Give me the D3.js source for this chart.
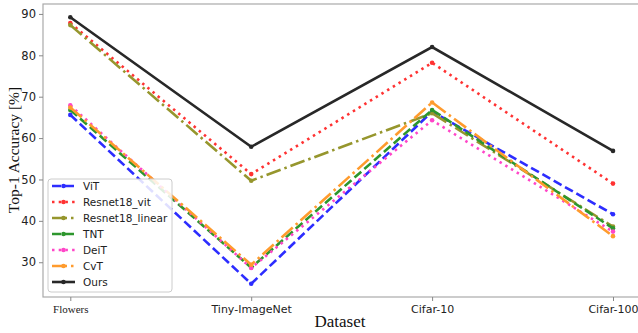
<!DOCTYPE html>
<html>
<head>
<meta charset="utf-8">
<script src="https://cdn.jsdelivr.net/npm/d3@7"></script>
<style>
  body { margin: 0; background: #fff; }
  svg { display: block; }
</style>
</head>
<body>
<div id="chart"></div>
<script>
// datasets on x axis
var datasets = ["Flowers", "Tiny-ImageNet", "Cifar-10", "Cifar-100"];
var yTicks = [30, 40, 50, 60, 70, 80, 90];

// top-1 accuracy per model
var vit          = [65.6, 24.8, 66.4, 41.6];
var resnet18Vit  = [87.8, 51.3, 78.2, 49.0];
var resnet18Lin  = [87.3, 49.7, 66.0, 38.6];
var tnt          = [66.8, 28.7, 66.8, 38.2];
var deit         = [67.9, 28.6, 64.3, 37.4];
var cvt          = [67.4, 29.4, 68.6, 36.3];
var ours         = [89.2, 57.9, 82.0, 56.9];

var modelNames = ["ViT", "Resnet18_vit", "Resnet18_linear", "TNT", "DeiT", "CvT", "Ours"];

var styles = [
  {color: "rgb(45,45,255)",  dash: "9,4"},
  {color: "rgb(255,50,50)",  dash: "2.5,4.2"},
  {color: "rgb(150,150,45)", dash: "15,4,2.5,4"},
  {color: "rgb(45,150,45)",  dash: "9,4"},
  {color: "rgb(255,70,200)", dash: "2.5,4.2"},
  {color: "rgb(255,155,45)", dash: "15,4,2.5,4"},
  {color: "rgb(40,40,40)",   dash: null}
];

var series = [vit, resnet18Vit, resnet18Lin, tnt, deit, cvt, ours].map(function(v, i){
  return {name: modelNames[i], values: v, color: styles[i].color, dash: styles[i].dash};
});

var W = 638, H = 333;
var margin = {left: 43, top: 4, right: -2, bottom: 36};

var svg = d3.select("#chart").append("svg").attr("width", W).attr("height", H);

var x = d3.scalePoint().domain(datasets).range([70.3, 613]);
var y = d3.scaleLinear().domain([21.6, 92.4]).range([H - margin.bottom, margin.top]);

var g = svg.append("g");

// spines
g.append("rect")
  .attr("x", margin.left).attr("y", margin.top)
  .attr("width", W - margin.right - margin.left)
  .attr("height", H - margin.bottom - margin.top)
  .attr("fill", "none").attr("stroke", "#aaa").attr("stroke-width", 1.2);

// y axis
var yAxis = g.append("g")
  .attr("transform", "translate(" + margin.left + ",0)")
  .call(d3.axisLeft(y).tickValues(yTicks).tickSize(4).tickPadding(3));
yAxis.select(".domain").remove();
yAxis.selectAll("line").attr("stroke", "#888");
yAxis.selectAll("text").attr("font-family", "DejaVu Sans").attr("font-size", 11.5).attr("fill", "#222");

// x axis
var xAxis = g.append("g")
  .attr("transform", "translate(0," + (H - margin.bottom) + ")")
  .call(d3.axisBottom(x).tickSize(4).tickPadding(4));
xAxis.select(".domain").remove();
xAxis.selectAll("line").attr("stroke", "#888");
xAxis.selectAll("text")
  .attr("font-family", function(d){ return d == "Flowers" ? "Liberation Serif" : "DejaVu Sans"; })
  .attr("font-size", 11)
  .attr("fill", "#222");

// axis titles
svg.append("text")
  .attr("x", 340).attr("y", 327)
  .attr("text-anchor", "middle")
  .attr("font-family", "Liberation Serif").attr("font-size", 17)
  .attr("fill", "#111")
  .text("Dataset");

svg.append("text")
  .attr("transform", "translate(19,150) rotate(-90)")
  .attr("text-anchor", "middle")
  .attr("font-family", "Liberation Serif").attr("font-size", 15.5)
  .attr("fill", "#111")
  .text("Top-1 Accuracy [%]");

// lines
var line = d3.line()
  .x(function(d, i){ return x(datasets[i]); })
  .y(function(d){ return y(d); });

var lines = g.selectAll(".series")
  .data(series)
  .enter().append("g");

lines.append("path")
  .attr("d", function(d){ return line(d.values); })
  .attr("fill", "none")
  .attr("stroke", function(d){ return d.color; })
  .attr("stroke-width", 2.6)
  .attr("stroke-dasharray", function(d){ return d.dash; });

lines.selectAll("circle")
  .data(function(d){ return d.values.map(function(v, i){ return {v: v, i: i, color: d.color}; }); })
  .enter().append("circle")
  .attr("cx", function(d){ return x(datasets[d.i]); })
  .attr("cy", function(d){ return y(d.v); })
  .attr("r", 2.3)
  .attr("fill", function(d){ return d.color; });

// legend
var lg = svg.append("g").attr("transform", "translate(48,179)");
lg.append("rect")
  .attr("width", 124).attr("height", 113)
  .attr("rx", 3)
  .attr("fill", "white").attr("fill-opacity", 0.85)
  .attr("stroke", "#ccc");

var item = lg.selectAll(".item")
  .data(series)
  .enter().append("g")
  .attr("transform", function(d, i){ return "translate(0," + (7 + i * 16) + ")"; });

item.append("line")
  .attr("x1", 4).attr("x2", 27).attr("y1", 0).attr("y2", 0)
  .attr("stroke", function(d){ return d.color; })
  .attr("stroke-width", 2.6)
  .attr("stroke-dasharray", function(d){ return d.dash; });

item.append("circle")
  .attr("cx", 15.5).attr("cy", 0).attr("r", 2.3)
  .attr("fill", function(d){ return d.color; });

item.append("text")
  .attr("x", 35).attr("y", 4)
  .attr("font-family", "DejaVu Sans").attr("font-size", 10.5)
  .attr("fill", "#222")
  .text(function(d){ return d.name; });
</script>
</body>
</html>
